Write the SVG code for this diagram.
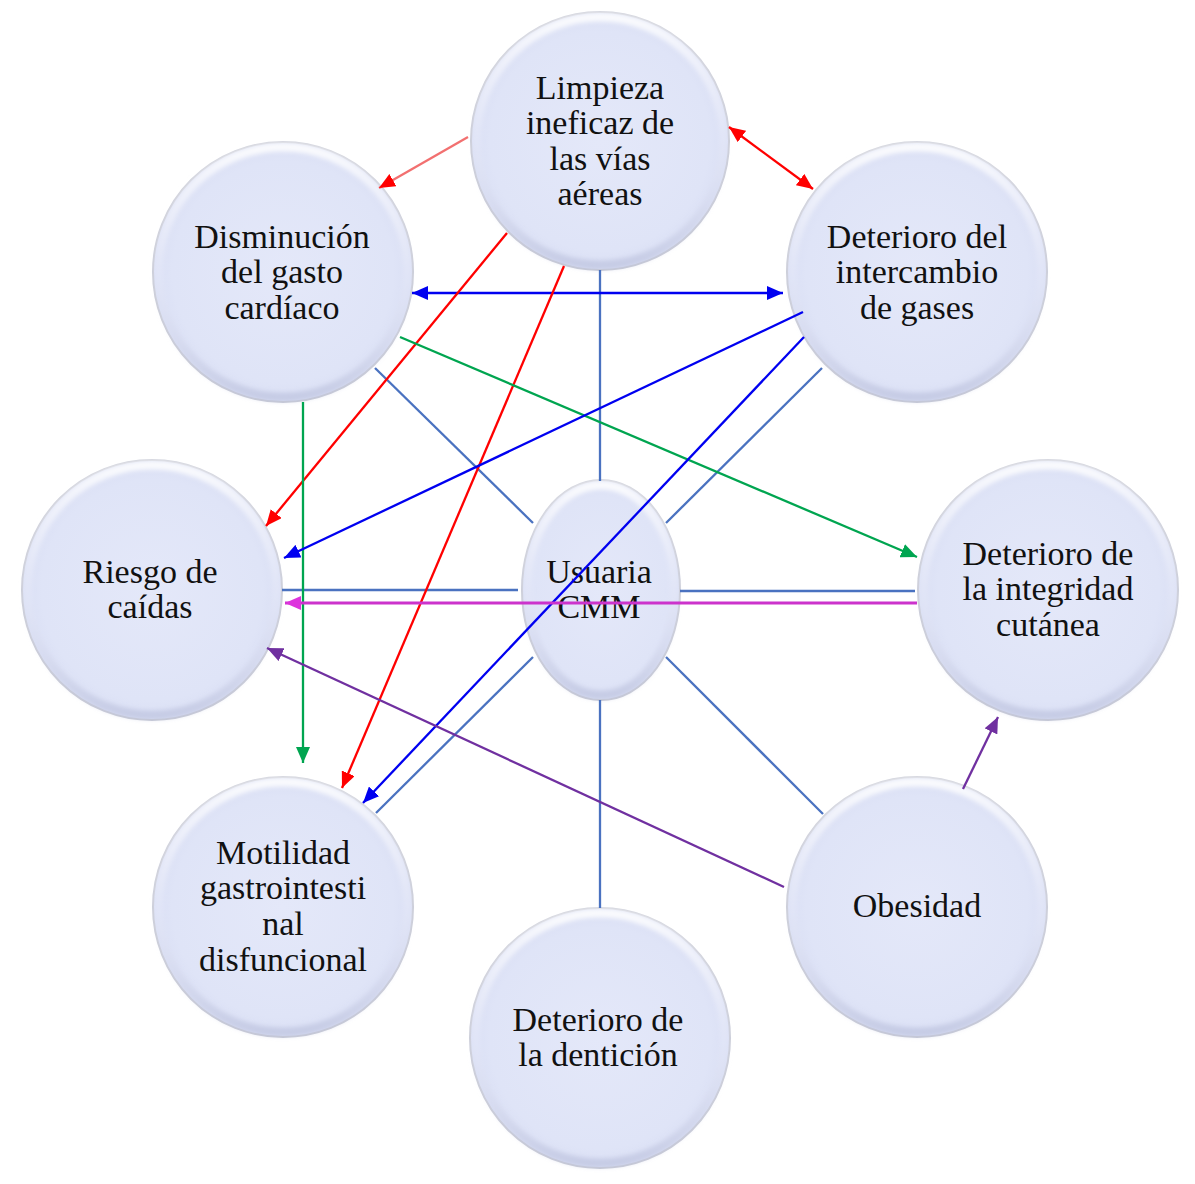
<svg xmlns="http://www.w3.org/2000/svg" width="1195" height="1184" viewBox="0 0 1195 1184">
<style>
.n{fill:url(#fillg);stroke:#c9cbd6;stroke-width:2}
.rim{fill:none;stroke:url(#rimg);stroke-width:9;filter:url(#bl)}
.t{font-family:"Liberation Serif","Times New Roman",serif;font-size:34px;fill:#111;text-anchor:middle}
.c{fill:none;stroke-width:2.3}
.sp{stroke:#4a72c0}
.r{stroke:#ff0000}
.lr{stroke:#f27070}
.b{stroke:#0000f0}
.g{stroke:#00a550}
.m{stroke:#cc33cc;stroke-width:2.8}
.p{stroke:#7030a0}
</style>
<defs>
<radialGradient id="fillg" cx="0.5" cy="0.5" r="0.5">
<stop offset="0" stop-color="#e4e8f9"/>
<stop offset="0.85" stop-color="#dfe4f7"/>
<stop offset="1" stop-color="#dadff4"/>
</radialGradient>
<linearGradient id="rimg" x1="0" y1="0" x2="0" y2="1">
<stop offset="0" stop-color="#ffffff" stop-opacity="0.85"/>
<stop offset="0.5" stop-color="#eef0fb" stop-opacity="0.3"/>
<stop offset="1" stop-color="#b8bedb" stop-opacity="0.6"/>
</linearGradient>
<filter id="bl" x="-10%" y="-10%" width="120%" height="120%"><feGaussianBlur stdDeviation="2"/></filter>
<marker id="ar" markerUnits="userSpaceOnUse" markerWidth="17" markerHeight="14" refX="16" refY="7" orient="auto-start-reverse"><path d="M0,0 L16,7 L0,14 z" fill="#ff0000"/></marker>
<marker id="ab" markerUnits="userSpaceOnUse" markerWidth="17" markerHeight="14" refX="16" refY="7" orient="auto-start-reverse"><path d="M0,0 L16,7 L0,14 z" fill="#0000f0"/></marker>
<marker id="ag" markerUnits="userSpaceOnUse" markerWidth="17" markerHeight="14" refX="16" refY="7" orient="auto-start-reverse"><path d="M0,0 L16,7 L0,14 z" fill="#00a550"/></marker>
<marker id="am" markerUnits="userSpaceOnUse" markerWidth="17" markerHeight="14" refX="16" refY="7" orient="auto-start-reverse"><path d="M0,0 L16,7 L0,14 z" fill="#dd33dd"/></marker>
<marker id="ap" markerUnits="userSpaceOnUse" markerWidth="17" markerHeight="14" refX="16" refY="7" orient="auto-start-reverse"><path d="M0,0 L16,7 L0,14 z" fill="#7030a0"/></marker>
</defs>
<rect width="1195" height="1184" fill="#ffffff"/>

<g id="node-limpieza">
<circle class="n" cx="600" cy="141" r="129"/><circle class="rim" cx="600" cy="141" r="124"/>
<text class="t" x="600" y="99">Limpieza</text><text class="t" x="600" y="134">ineficaz de</text><text class="t" x="600" y="170">las vías</text><text class="t" x="600" y="205">aéreas</text>
</g>
<g id="node-disminucion">
<circle class="n" cx="283" cy="272" r="130"/><circle class="rim" cx="283" cy="272" r="125"/>
<text class="t" x="282" y="248">Disminución</text><text class="t" x="282" y="283">del gasto</text><text class="t" x="282" y="319">cardíaco</text>
</g>
<g id="node-intercambio">
<circle class="n" cx="917" cy="272" r="130"/><circle class="rim" cx="917" cy="272" r="125"/>
<text class="t" x="917" y="248">Deterioro del</text><text class="t" x="917" y="283">intercambio</text><text class="t" x="917" y="319">de gases</text>
</g>
<g id="node-riesgo">
<circle class="n" cx="152" cy="590" r="130"/><circle class="rim" cx="152" cy="590" r="125"/>
<text class="t" x="150" y="583">Riesgo de</text><text class="t" x="150" y="618">caídas</text>
</g>
<g id="node-integridad">
<circle class="n" cx="1048" cy="590" r="130"/><circle class="rim" cx="1048" cy="590" r="125"/>
<text class="t" x="1048" y="565">Deterioro de</text><text class="t" x="1048" y="600">la integridad</text><text class="t" x="1048" y="636">cutánea</text>
</g>
<g id="node-motilidad">
<circle class="n" cx="283" cy="907" r="130"/><circle class="rim" cx="283" cy="907" r="125"/>
<text class="t" x="283" y="864">Motilidad</text><text class="t" x="283" y="899">gastrointesti</text><text class="t" x="283" y="935">nal</text><text class="t" x="283" y="971">disfuncional</text>
</g>
<g id="node-obesidad">
<circle class="n" cx="917" cy="907" r="130"/><circle class="rim" cx="917" cy="907" r="125"/>
<text class="t" x="917" y="917">Obesidad</text>
</g>
<g id="node-denticion">
<circle class="n" cx="600" cy="1038" r="130"/><circle class="rim" cx="600" cy="1038" r="125"/>
<text class="t" x="598" y="1031">Deterioro de</text><text class="t" x="598" y="1066">la dentición</text>
</g>
<g id="node-usuaria">
<ellipse class="n" cx="601" cy="590" rx="79" ry="110"/><ellipse class="rim" cx="601" cy="590" rx="74" ry="105"/>
<text class="t" x="599" y="583">Usuaria</text><text class="t" x="599" y="618">CMM</text>
</g>

<g id="connectors">
<line class="c sp" x1="600" y1="270" x2="600" y2="481"/>
<line class="c sp" x1="375" y1="368" x2="533" y2="523"/>
<line class="c sp" x1="822" y1="368" x2="666" y2="523"/>
<line class="c sp" x1="282" y1="590" x2="518" y2="590"/>
<line class="c sp" x1="680" y1="591" x2="915" y2="591"/>
<line class="c sp" x1="533" y1="657" x2="376" y2="813"/>
<line class="c sp" x1="666" y1="657" x2="823" y2="814"/>
<line class="c sp" x1="600" y1="700" x2="600" y2="908"/>

<line class="c lr" x1="468" y1="137" x2="379" y2="188" marker-end="url(#ar)"/>
<line class="c r" x1="729" y1="127" x2="813" y2="189" marker-start="url(#ar)" marker-end="url(#ar)"/>
<line class="c b" x1="412" y1="293" x2="783" y2="293" marker-start="url(#ab)" marker-end="url(#ab)"/>
<line class="c r" x1="507" y1="233" x2="266" y2="526" marker-end="url(#ar)"/>
<line class="c r" x1="564" y1="266" x2="342" y2="788" marker-end="url(#ar)"/>
<line class="c g" x1="400" y1="337" x2="917" y2="557" marker-end="url(#ag)"/>
<line class="c g" x1="303" y1="402" x2="303" y2="763" marker-end="url(#ag)"/>
<line class="c b" x1="803" y1="312" x2="284" y2="558" marker-end="url(#ab)"/>
<line class="c b" x1="804" y1="337" x2="363" y2="803" marker-end="url(#ab)"/>
<line class="c m" x1="917" y1="603" x2="285" y2="603" marker-end="url(#am)"/>
<line class="c p" x1="784" y1="887" x2="267" y2="648" marker-end="url(#ap)"/>
<line class="c p" x1="963" y1="789" x2="998" y2="717" marker-end="url(#ap)"/>
</g>
</svg>
